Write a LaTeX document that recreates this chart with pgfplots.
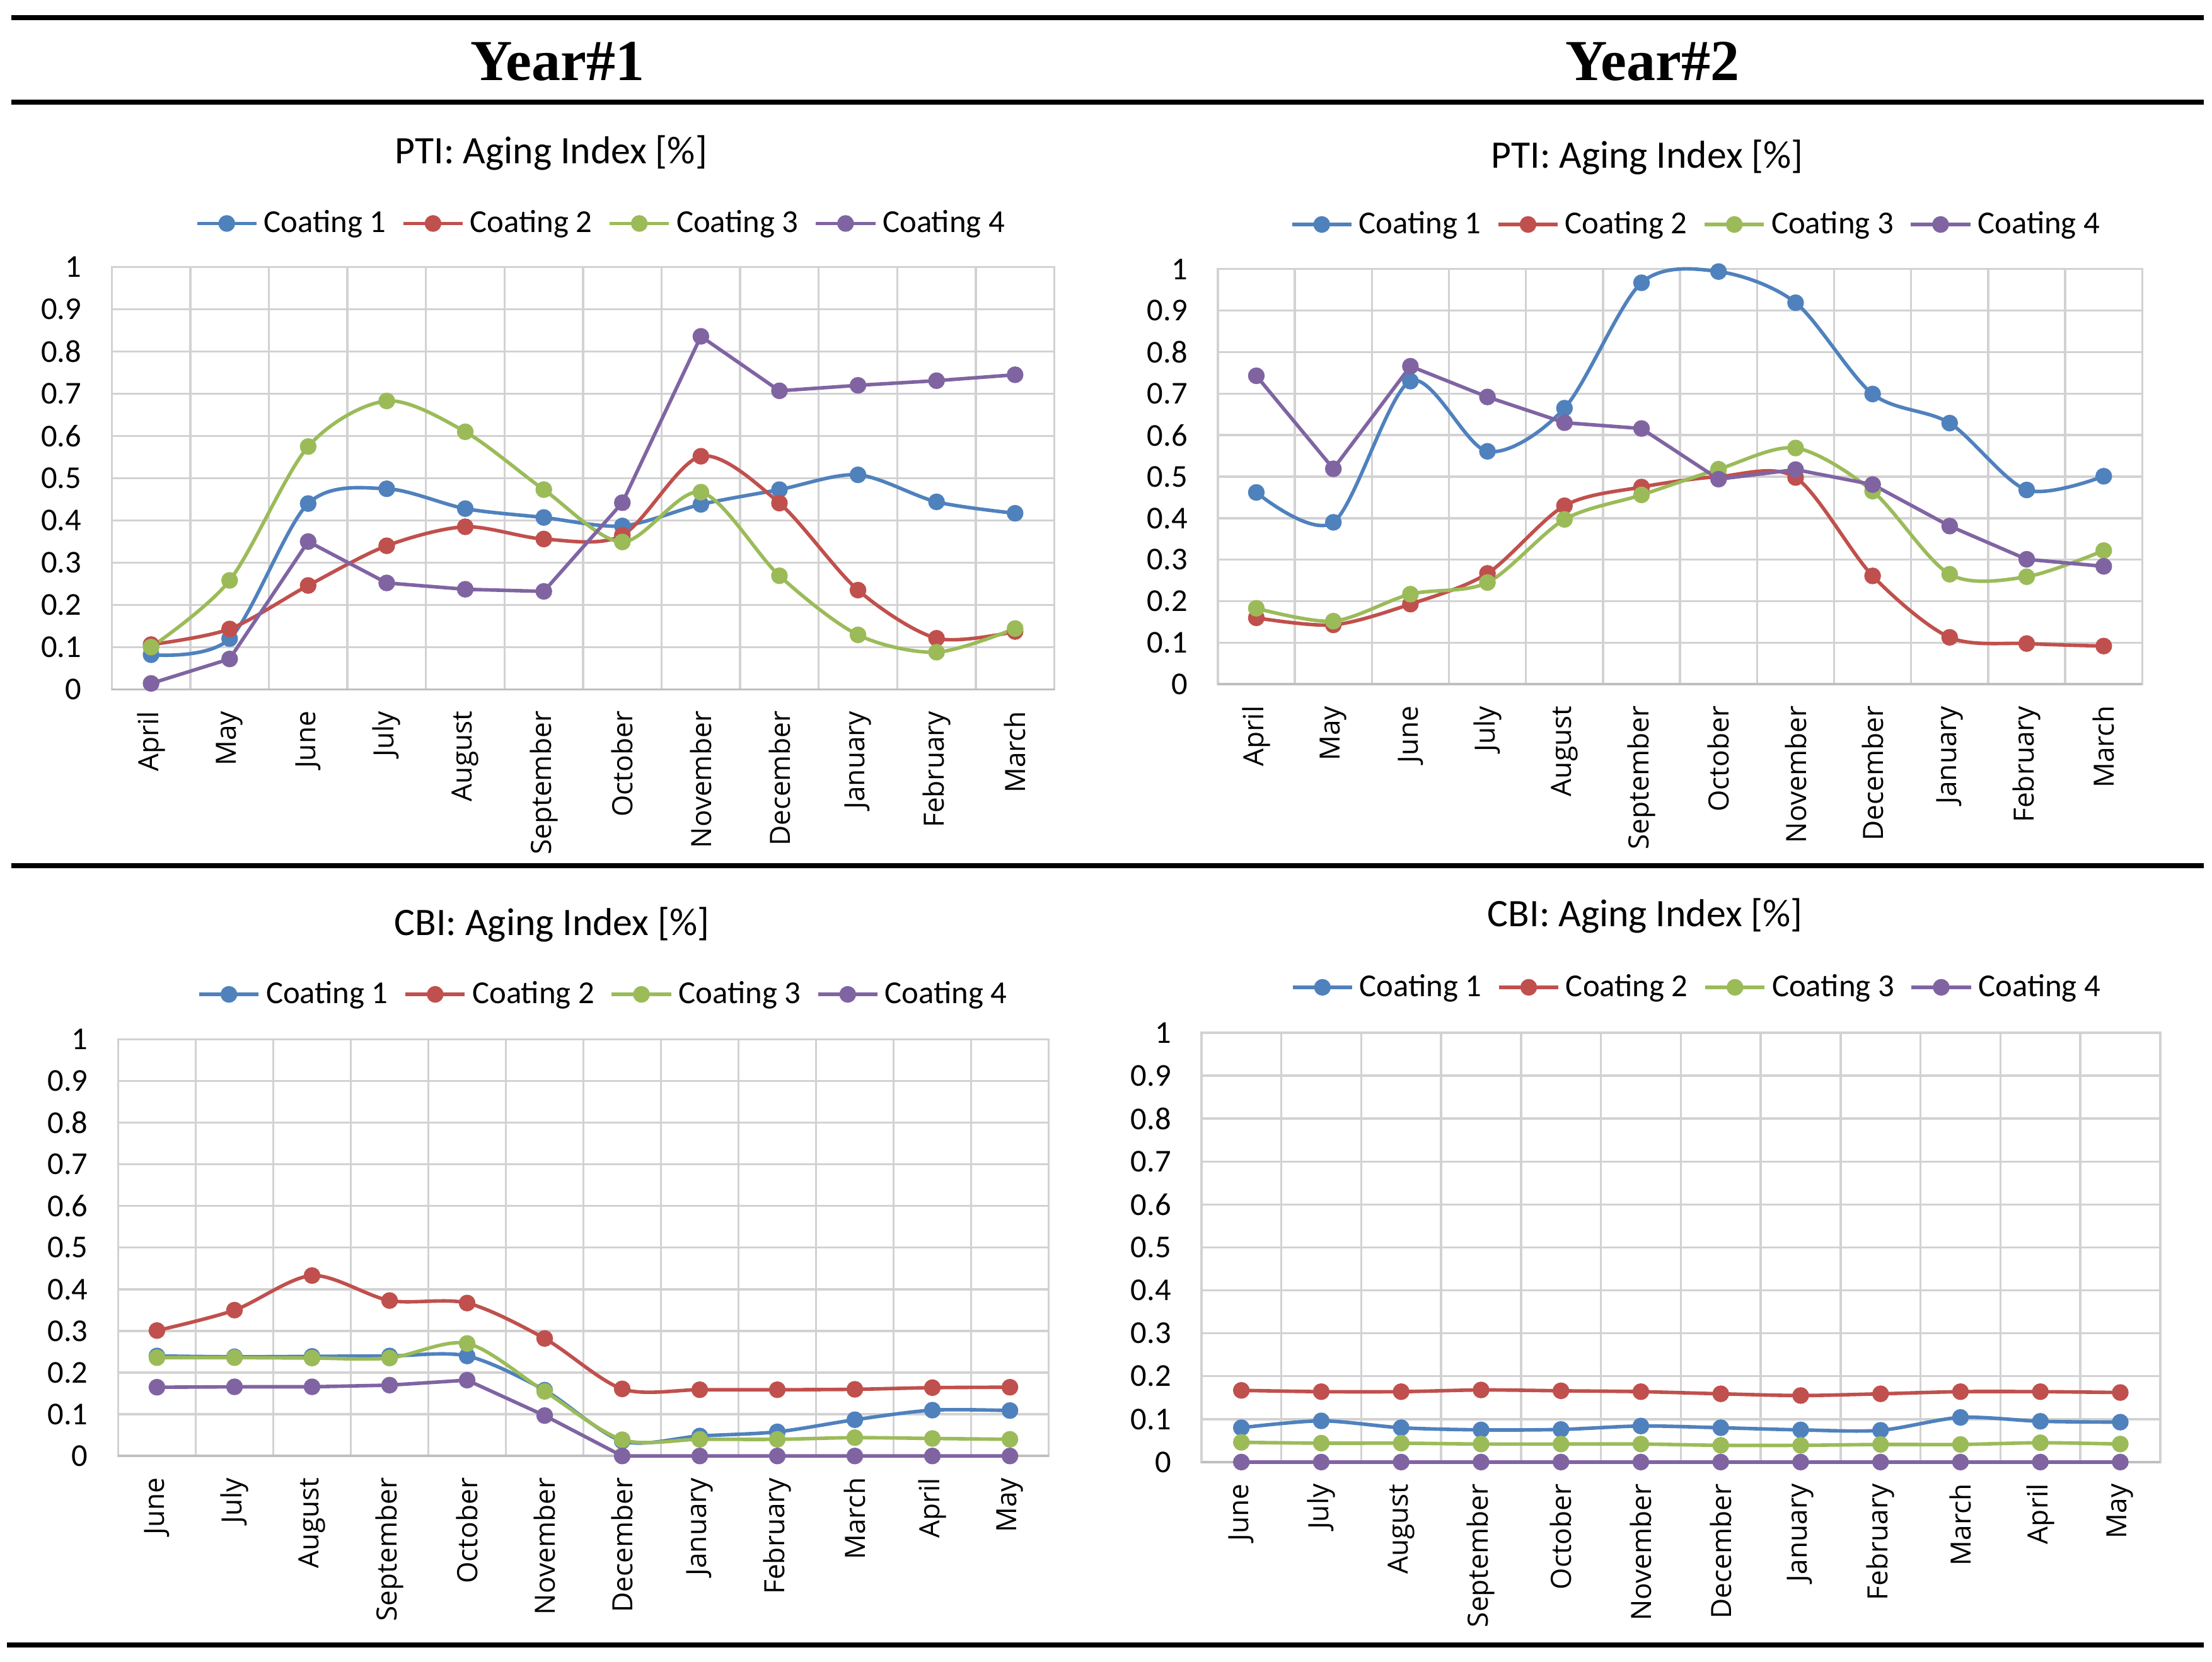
\documentclass[border=0pt]{standalone}
\usepackage{fontspec}
\usepackage{pgfplots}
\usepackage{pgfplotstable}
\pgfplotsset{compat=1.18}

\newfontfamily\carlito{Carlito}
\newfontfamily\opensans{Open Sans}
\newfontfamily\yearfont{Liberation Serif}

\definecolor{cone}{HTML}{4F81BD}
\definecolor{ctwo}{HTML}{C0504D}
\definecolor{cthree}{HTML}{9BBB59}
\definecolor{cfour}{HTML}{8064A2}
\definecolor{gridc}{HTML}{D2D2D2}
\definecolor{axisc}{HTML}{BFBFBF}

% Year 1, PTI (April ... March)
\pgfplotstableread{
x  c1    c2    c3    c4
1  0.082 0.106 0.100 0.014
2  0.120 0.143 0.258 0.072
3  0.440 0.246 0.575 0.350
4  0.475 0.340 0.683 0.252
5  0.428 0.385 0.610 0.237
6  0.407 0.356 0.473 0.232
7  0.387 0.365 0.349 0.442
8  0.438 0.552 0.467 0.836
9  0.473 0.441 0.269 0.707
10 0.508 0.235 0.129 0.720
11 0.444 0.121 0.088 0.731
12 0.417 0.137 0.144 0.745
}\ptiA

% Year 2, PTI (April ... March)
\pgfplotstableread{
x  c1    c2    c3    c4
1  0.462 0.160 0.183 0.743
2  0.390 0.143 0.152 0.519
3  0.730 0.193 0.217 0.766
4  0.561 0.267 0.245 0.692
5  0.665 0.430 0.397 0.630
6  0.967 0.475 0.456 0.616
7  0.994 0.500 0.518 0.494
8  0.919 0.498 0.569 0.517
9  0.699 0.261 0.465 0.481
10 0.629 0.113 0.265 0.381
11 0.468 0.098 0.259 0.301
12 0.501 0.092 0.322 0.284
}\ptiB

% Year 1, CBI (June ... May)
\pgfplotstableread{
x  c1    c2    c3    c4
1  0.240 0.301 0.236 0.165
2  0.238 0.350 0.236 0.166
3  0.239 0.433 0.235 0.166
4  0.240 0.373 0.235 0.170
5  0.240 0.367 0.270 0.182
6  0.158 0.282 0.155 0.097
7  0.036 0.161 0.039 0
8  0.048 0.159 0.040 0
9  0.058 0.159 0.040 0
10 0.087 0.160 0.044 0
11 0.110 0.164 0.042 0
12 0.109 0.165 0.040 0
}\cbiA

% Year 2, CBI (June ... May)
\pgfplotstableread{
x  c1    c2    c3    c4
1  0.080 0.167 0.046 0
2  0.096 0.164 0.044 0
3  0.080 0.164 0.044 0
4  0.075 0.168 0.042 0
5  0.076 0.166 0.042 0
6  0.084 0.164 0.042 0
7  0.080 0.159 0.039 0
8  0.075 0.155 0.039 0
9  0.074 0.159 0.041 0
10 0.104 0.164 0.041 0
11 0.095 0.164 0.045 0
12 0.093 0.162 0.042 0
}\cbiB

\pgfplotsset{
  agingaxis/.style={
    scale only axis, anchor=south west, clip=false,
    xmin=0.5, xmax=12.5, ymin=0, ymax=1,
    xtick={1,2,3,4,5,6,7,8,9,10,11,12},
    minor xtick={0.5,1.5,2.5,3.5,4.5,5.5,6.5,7.5,8.5,9.5,10.5,11.5,12.5},
    ytick={0,0.1,0.2,0.3,0.4,0.5,0.6,0.7,0.8,0.9,1},
    yticklabels={0,0.1,0.2,0.3,0.4,0.5,0.6,0.7,0.8,0.9,1},
    ymajorgrids=true, xminorgrids=true,
    extra y ticks={0}, extra y tick labels={},
    extra y tick style={major grid style={draw=axisc, line width=0.8pt}},
    major tick length=0pt, minor tick length=0pt,
    grid style={draw=gridc, line width=0.75pt},
    axis line style={draw=gridc, line width=0.75pt},
    xticklabel style={font=\opensans\fontsize{9.85}{11}\selectfont,
      rotate=90, anchor=east, inner sep=0pt},
    yticklabel style={font=\carlito\fontsize{11.25}{13}\selectfont,
      anchor=east, inner sep=0pt},
    xticklabel shift=7.5pt, yticklabel shift=10.5pt,
    legend columns=4,
    legend style={draw=none, fill=none, anchor=center, inner sep=0pt,
      font=\carlito\fontsize{11.3}{13}\selectfont,
      nodes={inner xsep=2pt, inner ysep=1pt},
      /tikz/every even column/.append style={column sep=3.5pt}},
    legend image code/.code={
      \draw[##1, mark repeat=2, mark phase=2]
        plot coordinates {(0pt,0pt) (10.5pt,0pt) (21pt,0pt)};},
    every axis plot/.append style={line width=1.25pt, mark=*, mark size=2.7pt,
      mark options={solid, line width=0.5pt}},
  },
  sone/.style={cone, smooth},
  stwo/.style={ctwo, smooth},
  sthree/.style={cthree, smooth},
  sfour/.style={cfour},
}

\begin{document}
\begin{tikzpicture}
\useasboundingbox (0pt,0pt) rectangle (781.5pt,587pt);

% rules and column heads
\draw[line width=1.8pt] (4pt,580.75pt) -- (778.5pt,580.75pt);
\draw[line width=1.8pt] (4pt,550.9pt) -- (778.5pt,550.9pt);
\draw[line width=1.8pt] (4pt,281.25pt) -- (778.5pt,281.25pt);
\draw[line width=1.8pt] (2.5pt,6pt) -- (778.5pt,6pt);
\node[anchor=base, font=\yearfont\bfseries\fontsize{20.5}{24}\selectfont]
  at (197pt,558.5pt) {Year\#1};
\node[anchor=base, font=\yearfont\bfseries\fontsize{20.5}{24}\selectfont]
  at (583.75pt,558.5pt) {Year\#2};

% chart titles
\node[font=\carlito\fontsize{13.75}{16}\selectfont] at (194.75pt,532.95pt) {PTI: Aging Index [\%]};
\node[font=\carlito\fontsize{13.75}{16}\selectfont] at (582pt,531.5pt) {PTI: Aging Index [\%]};
\node[font=\carlito\fontsize{13.75}{16}\selectfont] at (195pt,260.4pt) {CBI: Aging Index [\%]};
\node[font=\carlito\fontsize{13.75}{16}\selectfont] at (581.25pt,263.6pt) {CBI: Aging Index [\%]};

% Year 1 PTI
\begin{axis}[agingaxis, at={(39.5pt,343.5pt)}, width=333pt, height=149.15pt,
  xticklabels={April,May,June,July,August,September,October,November,December,January,February,March},
  legend style={at={(0.521,1.1033)}}]
  \addplot[sone] table[x=x,y=c1]{\ptiA};
  \addplot[stwo] table[x=x,y=c2]{\ptiA};
  \addplot[sthree] table[x=x,y=c3]{\ptiA};
  \addplot[sfour] table[x=x,y=c4]{\ptiA};
  \legend{Coating 1,Coating 2,Coating 3,Coating 4}
\end{axis}

% Year 2 PTI
\begin{axis}[agingaxis, at={(430.25pt,345.3pt)}, width=326.6pt, height=146.65pt,
  xticklabels={April,May,June,July,August,September,October,November,December,January,February,March},
  legend style={at={(0.5193,1.1074)}}]
  \addplot[sone] table[x=x,y=c1]{\ptiB};
  \addplot[stwo] table[x=x,y=c2]{\ptiB};
  \addplot[sthree] table[x=x,y=c3]{\ptiB};
  \addplot[sfour] table[x=x,y=c4]{\ptiB};
  \legend{Coating 1,Coating 2,Coating 3,Coating 4}
\end{axis}

% Year 1 CBI
\begin{axis}[agingaxis, at={(41.75pt,72.7pt)}, width=328.75pt, height=147.2pt,
  xticklabels={June,July,August,September,October,November,December,January,February,March,April,May},
  legend style={at={(0.5232,1.1077)}}]
  \addplot[sone] table[x=x,y=c1]{\cbiA};
  \addplot[stwo] table[x=x,y=c2]{\cbiA};
  \addplot[sthree] table[x=x,y=c3]{\cbiA};
  \addplot[sfour] table[x=x,y=c4]{\cbiA};
  \legend{Coating 1,Coating 2,Coating 3,Coating 4}
\end{axis}

% Year 2 CBI
\begin{axis}[agingaxis, at={(424.45pt,70.55pt)}, width=338.75pt, height=151.65pt,
  xticklabels={June,July,August,September,October,November,December,January,February,March,April,May},
  legend style={at={(0.5185,1.1058)}}]
  \addplot[sone] table[x=x,y=c1]{\cbiB};
  \addplot[stwo] table[x=x,y=c2]{\cbiB};
  \addplot[sthree] table[x=x,y=c3]{\cbiB};
  \addplot[sfour] table[x=x,y=c4]{\cbiB};
  \legend{Coating 1,Coating 2,Coating 3,Coating 4}
\end{axis}
\end{tikzpicture}
\end{document}
